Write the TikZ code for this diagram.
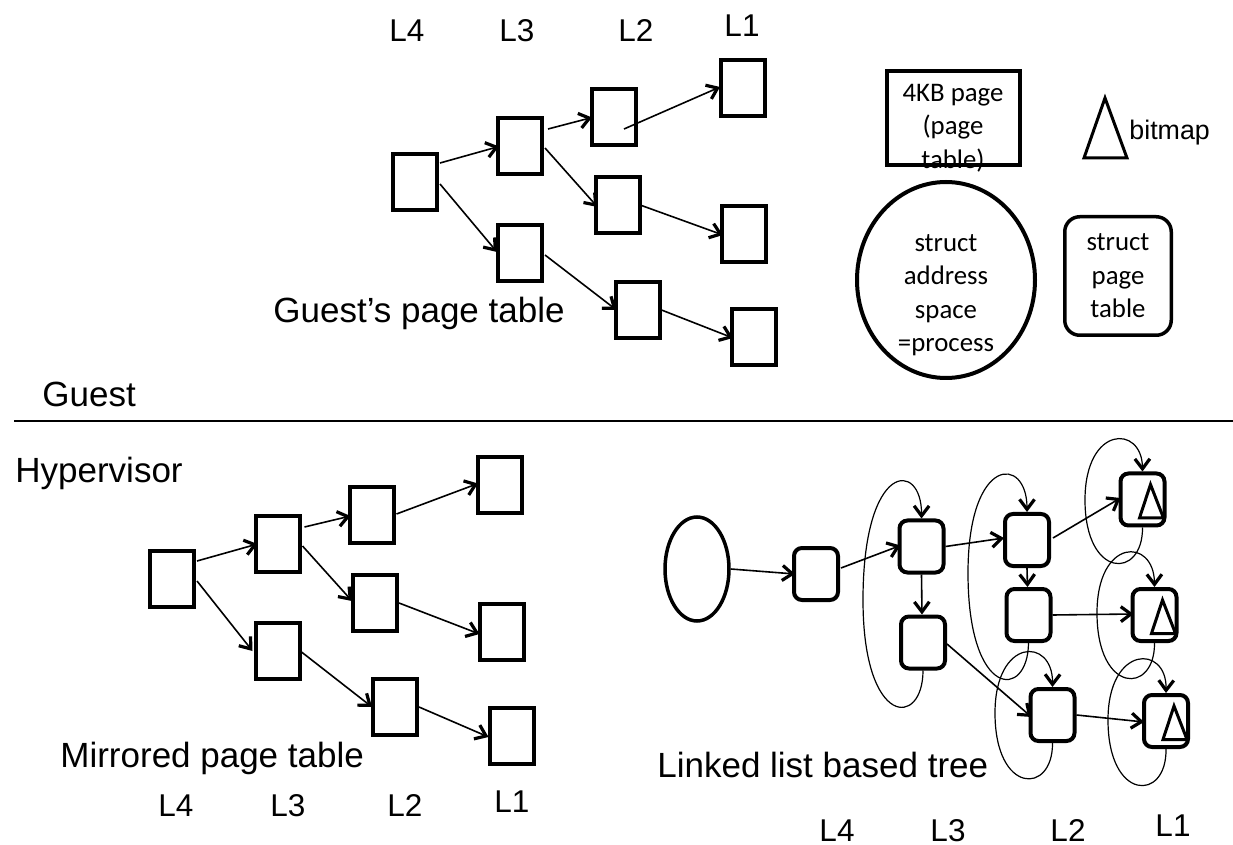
\documentclass[tikz,border=0pt]{standalone}
\usepackage{fontspec}
\setmainfont{Liberation Sans}
\newfontfamily\calib{Carlito}
\usetikzlibrary{arrows.meta,calc,shapes.geometric}
\begin{document}
\begin{tikzpicture}[x=0.5pt,y=-0.5pt,
  >={Straight Barb[length=5pt,width=7.5pt,line width=1.6pt]},
  pbox/.style={draw,line width=2pt,minimum width=22pt,minimum height=28pt,inner sep=0pt},
  lbox/.style={draw,line width=2pt,rounded corners=4pt,minimum width=22pt,minimum height=26pt,inner sep=0pt},
  conn/.style={->,line width=0.8pt},
  loopc/.style={->,line width=0.6pt},
  big/.style={font=\fontsize{17.5}{21}\selectfont,inner sep=0pt,anchor=base west},
  lvl/.style={font=\fontsize{15.75}{18}\selectfont,inner sep=0pt,anchor=base},
  cal/.style={font=\calib\fontsize{13.4}{16.75}\selectfont,align=center,inner sep=0pt},
  bmtri/.pic={\draw[line width=1.5pt] (8,-15) -- (-3,18.5) -- (21,18.5) -- cycle;}
]
\useasboundingbox[fill=white] (0,0) rectangle (1233,845);

% ---------- separator and titles ----------
\draw[line width=1pt] (14,421) -- (1233,421);
\node[big] (guestpt) at (273,323) {Guest’s page table};
\node[big] (guest) at (42,407) {Guest};
\node[big] (hyper) at (15,482) {Hypervisor};
\node[big] (mirr) at (60,767) {Mirrored page table};
\node[big] (llbt) at (657,777) {Linked list based tree};

% ---------- level labels ----------
\node[lvl] (tL4) at (407,42) {L4};
\node[lvl] (tL3) at (517,42) {L3};
\node[lvl] (tL2) at (636,42) {L2};
\node[lvl] (tL1) at (742,37) {L1};
\node[lvl] (mL4) at (176,816) {L4};
\node[lvl] (mL3) at (288,816) {L3};
\node[lvl] (mL2) at (405,816) {L2};
\node[lvl] (mL1) at (512,812) {L1};
\node[lvl] (bL4) at (837,841) {L4};
\node[lvl] (bL3) at (948,841) {L3};
\node[lvl] (bL2) at (1068,841) {L2};
\node[lvl] (bL1) at (1173,836) {L1};

% ---------- legend ----------
\node[draw,line width=2pt,minimum width=66.5pt,minimum height=47pt,inner sep=0pt] (kb) at (953.5,118) {};
\node[cal] (kbt) at (953,128) {4KB page\\(page\\table)};
\draw[line width=1.5pt] (1105,98) -- (1084,158) -- (1127,158) -- cycle;
\node[font=\fontsize{13.4}{16}\selectfont,inner sep=0pt,anchor=base west] (bmt) at (1129,140) {bitmap};
\node[draw,ellipse,line width=2pt,minimum width=89pt,minimum height=98pt,inner sep=0pt] (asp) at (946,280) {};
\node[cal] (aspt) at (946,295) {struct\\address\\space\\=process};
\node[cal,draw,line width=1.75pt,rounded corners=7.5pt,minimum width=53.25pt,minimum height=59.25pt] (spt) at (1118,276) {struct\\page\\table};

% ---------- guest page table ----------
\node[pbox] (t4)  at (415,182) {};
\node[pbox] (t3a) at (520,146.5) {};
\node[pbox] (t3b) at (520,253) {};
\node[pbox] (t2a) at (614,117.5) {};
\node[pbox] (t2b) at (617.5,205.5) {};
\node[pbox] (t2c) at (637.5,310) {};
\node[pbox] (t1a) at (743,88) {};
\node[pbox] (t1b) at (744,234) {};
\node[pbox] (t1c) at (754,337) {};
\draw[conn] ($(t4.east)+(1,-19)$) -- ($(t3a.west)+(3,0)$);
\draw[conn] ($(t4.east)+(1,2)$) -- ($(t3b.west)+(1,-1)$);
\draw[conn] ($(t3a.east)+(4,-17.5)$) -- ($(t2a.west)+(2,0)$);
\draw[conn] ($(t3a.east)+(1,1.5)$) -- ($(t2b.west)+(4,1.5)$);
\draw[conn] ($(t2a.center)+(10,11.5)$) -- ($(t1a.west)+(1,-1)$);
\draw[conn] (t2b.east) -- ($(t1b.west)+(3,1)$);
\draw[conn] ($(t3b.east)+(1,2)$) -- ($(t2c.west)+(3,0)$);
\draw[conn] (t2c.east) -- ($(t1c.west)+(3,1)$);

% ---------- mirrored page table ----------
\node[pbox] (m4)  at (172,579) {};
\node[pbox] (m3a) at (277.5,544) {};
\node[pbox] (m3b) at (277.5,650.5) {};
\node[pbox] (m2a) at (371.5,515) {};
\node[pbox] (m2b) at (375,603) {};
\node[pbox] (m2c) at (395,707) {};
\node[pbox] (m1a) at (500,485.5) {};
\node[pbox] (m1b) at (501.5,632) {};
\node[pbox] (m1c) at (511.5,736) {};
\draw[conn] ($(m4.east)+(1,-18)$) -- ($(m3a.west)+(4,0)$);
\draw[conn] ($(m4.east)+(1,2)$) -- ($(m3b.west)+(-1,0.5)$);
\draw[conn] ($(m3a.east)+(3,-17)$) -- ($(m2a.west)+(3,1)$);
\draw[conn] ($(m3a.east)+(1,2)$) -- ($(m2b.west)+(1,-2)$);
\draw[conn] ($(m2a.east)+(1,-1)$) -- ($(m1a.west)+(2,-2)$);
\draw[conn] (m2b.east) -- ($(m1b.west)+(2,2)$);
\draw[conn] ($(m3b.east)+(0,1.5)$) -- ($(m2c.west)+(1,0)$);
\draw[conn] (m2c.east) -- ($(m1c.west)+(1,1)$);

% ---------- linked list based tree ----------
\node[draw,ellipse,line width=1.75pt,minimum width=32pt,minimum height=52pt,inner sep=0pt] (lroot) at (697,569) {};
\node[lbox] (b0)  at (816,574) {};
\node[lbox] (b3a) at (921.5,546.5) {};
\node[lbox] (b3b) at (923,642.5) {};
\node[lbox] (b2a) at (1027,540) {};
\node[lbox] (b2b) at (1028.5,615) {};
\node[lbox] (b2c) at (1052.5,715) {};
\node[lbox] (b1a) at (1142.5,499.5) {};
\node[lbox] (b1b) at (1154.5,615) {};
\node[lbox] (b1c) at (1166,721) {};
\pic at (b1a.center) {bmtri};
\pic at (b1b.center) {bmtri};
\pic at (b1c.center) {bmtri};

\draw[conn] (lroot.east) -- ($(b0.west)+(3,0)$);
\draw[conn] ($(b0.east)+(1,-6)$) -- ($(b3a.west)+(3,-1)$);
\draw[conn] (b3a.south) -- ($(b3b.north)+(-1,0)$);
\draw[conn] (b3a.east) -- ($(b2a.west)+(1,-2)$);
\draw[conn] ($(b3b.east)+(0,1.5)$) -- ($(b2c.west)+(3,2)$);
\draw[conn] (b2a.south) -- ($(b2b.north)+(-1,0)$);
\draw[conn] ($(b2a.east)+(2,-2)$) -- ($(b1a.west)+(2,-1.5)$);
\draw[conn] (b2b.east) -- ($(b1b.west)+(3,-1)$);
\draw[conn] (b2c.east) -- ($(b1c.west)+(2,1)$);

% sibling loops
\draw[loopc] (b3b.south) .. controls (923,728) and (863,728) .. (863,600)
  .. controls (863,460) and (922,460) .. (b3a.north);
\draw[loopc] (b2b.south) .. controls (1028,700) and (968,700) .. (968,573)
  .. controls (968,455) and (1027,455) .. (b2a.north);
\draw[loopc] (b2c.south) .. controls (1053,795) and (995,795) .. (995,713)
  .. controls (995,637) and (1053,637) .. (b2c.north);
\draw[loopc] (b1a.south) .. controls (1143,579.5) and (1085,579.5) .. (1085,500)
  .. controls (1085,424.7) and (1142,424.7) .. (b1a.north);
\draw[loopc] (b1b.south) .. controls (1155,694.7) and (1097,694.7) .. (1097,613)
  .. controls (1097,537.3) and (1154,537.3) .. (b1b.north);
\draw[loopc] (b1c.south) .. controls (1167,801.9) and (1108,801.9) .. (1108,720)
  .. controls (1108,644.5) and (1167,644.5) .. (b1c.north);
\end{tikzpicture}
\end{document}
